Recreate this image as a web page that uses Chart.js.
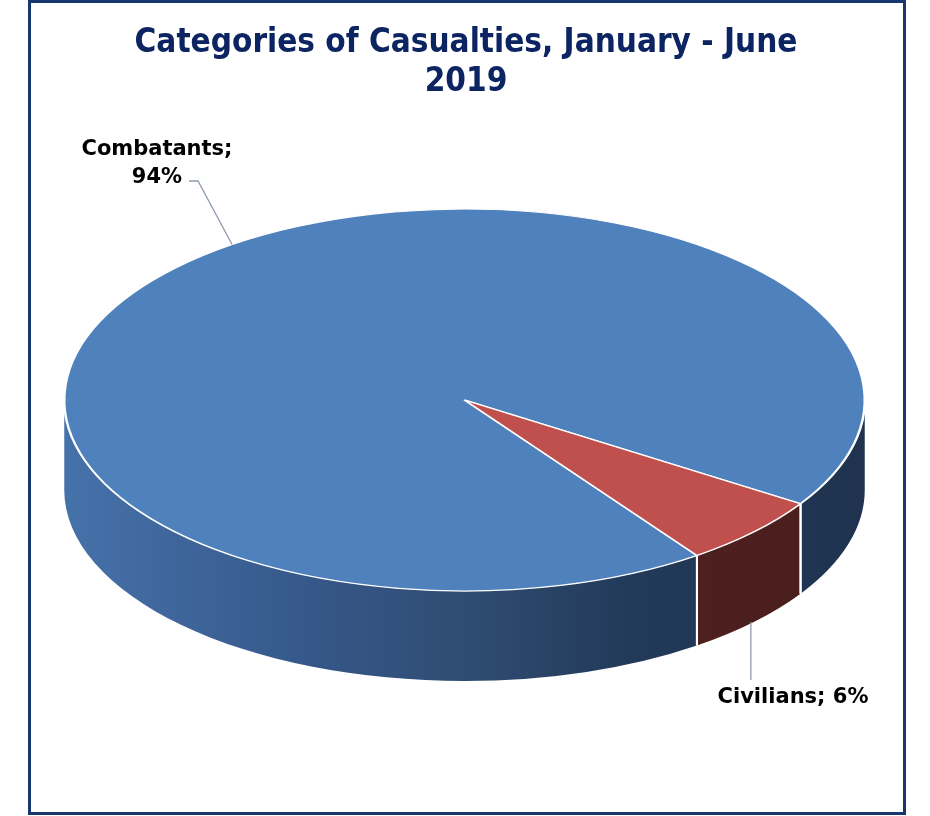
<!DOCTYPE html>
<html lang="en">
<head>
    <meta charset="UTF-8">
    <title>Categories of Casualties</title>
    <script src="https://cdn.jsdelivr.net/npm/chart.js"></script>
    <style>
        body { margin: 0; background: #fff; }
        .frame {
            position: relative;
            width: 930px;
            height: 816px;
        }
        .frame:after {
            content: '';
            position: absolute;
            left: 28px; top: 0;
            width: 872px; height: 809px;
            border: 3px solid #17356f;
            pointer-events: none;
        }
    </style>
</head>
<body>
    <div class="frame">
        <canvas id="casualtiesChart" width="930" height="816"></canvas>
    </div>
    <script>
        // data
        const categories = ['Combatants', 'Civilians'];
        const shares = [94, 6];
        const sliceColors = ['#4f81bd', '#c0504d'];

        // 3d look of the pie
        const CY = 400;      // centre of the top face
        const RY = 191;      // vertical radius of the top face
        const DEPTH = 90;    // height of the side wall

        function wallFill(ctx, i, cx, r) {
            const g = ctx.createLinearGradient(cx - r, 0, cx + r, 0);
            if (i === 0) {
                g.addColorStop(0, '#4672aa');
                g.addColorStop(0.3, '#36588a');
                g.addColorStop(0.5, '#2f4c72');
                g.addColorStop(0.72, '#223958');
                g.addColorStop(1, '#1f3350');
            } else {
                g.addColorStop(0, '#542323');
                g.addColorStop(1, '#4b1e1e');
            }
            return g;
        }

        const pie3d = {
            id: 'pie3d',
            beforeDatasetsDraw(chart) {
                const ctx = chart.ctx;
                const arcs = chart.getDatasetMeta(0).data;
                const cx = arcs[0].x, cy = arcs[0].y, r = arcs[0].outerRadius;
                const edges = [];
                // side wall, only the front half is visible
                arcs.forEach((arc, i) => {
                    for (let off = -2 * Math.PI; off <= 4 * Math.PI; off += 2 * Math.PI) {
                        const a = Math.max(arc.startAngle, off);
                        const b = Math.min(arc.endAngle, off + Math.PI);
                        if (a >= b) continue;
                        const s = a - off, e = b - off;
                        ctx.beginPath();
                        ctx.ellipse(cx, CY, r, RY, 0, s, e);
                        ctx.lineTo(cx + r * Math.cos(e), CY + RY * Math.sin(e) + DEPTH);
                        ctx.ellipse(cx, CY + DEPTH, r, RY, 0, e, s, true);
                        ctx.closePath();
                        ctx.fillStyle = wallFill(ctx, i, cx, r);
                        ctx.fill();
                        if (s > 0.001) edges.push(s);
                        if (e < Math.PI - 0.001) edges.push(e);
                    }
                });
                ctx.save();
                ctx.strokeStyle = '#ffffff';
                ctx.lineWidth = 2;
                edges.forEach(t => {
                    ctx.beginPath();
                    ctx.moveTo(cx + r * Math.cos(t), CY + RY * Math.sin(t));
                    ctx.lineTo(cx + r * Math.cos(t), CY + RY * Math.sin(t) + DEPTH);
                    ctx.stroke();
                });
                ctx.restore();
                // squash the top face
                ctx.save();
                ctx.translate(0, CY);
                ctx.scale(1, RY / r);
                ctx.translate(0, -cy);
            },
            afterDatasetsDraw(chart) {
                const ctx = chart.ctx;
                ctx.restore();
                const arcs = chart.getDatasetMeta(0).data;
                const cx = arcs[0].x, r = arcs[0].outerRadius;
                const total = shares.reduce((a, b) => a + b, 0);

                // title
                ctx.save();
                ctx.fillStyle = '#0c2461';
                ctx.textAlign = 'center';
                ctx.textBaseline = 'alphabetic';
                ctx.font = 'bold 33px "DejaVu Sans Condensed", "DejaVu Sans"';
                ctx.fillText('Categories of Casualties, January - June', 466, 52);
                ctx.fillText('2019', 466, 91);

                // data labels with leader lines
                ctx.font = 'bold 21px "DejaVu Sans"';
                ctx.fillStyle = '#000000';
                ctx.strokeStyle = '#8e9bb0';
                ctx.lineWidth = 1.3;
                const pct = i => Math.round(shares[i] / total * 100) + '%';

                // Combatants: anchor on the back rim of the top face
                const t0 = -125.5 * Math.PI / 180;
                const ax = cx + r * Math.cos(t0), ay = CY + RY * Math.sin(t0);
                ctx.beginPath();
                ctx.moveTo(ax, ay);
                ctx.lineTo(198, 181);
                ctx.lineTo(189, 181);
                ctx.stroke();
                ctx.textAlign = 'center';
                ctx.fillText(categories[0] + ';', 157, 155);
                ctx.fillText(pct(0), 157, 183);

                // Civilians: anchor on the bottom of its wall
                const c = arcs[1];
                const m = (c.startAngle + c.endAngle) / 2 - 2 * Math.PI * Math.floor(((c.startAngle + c.endAngle) / 2) / (2 * Math.PI));
                const bx = cx + r * Math.cos(m) - 3, by = CY + RY * Math.sin(m) + DEPTH;
                ctx.beginPath();
                ctx.moveTo(bx, by);
                ctx.lineTo(bx, 680);
                ctx.stroke();
                ctx.fillText(categories[1] + '; ' + pct(1), 793, 703);
                ctx.restore();
            }
        };

        const casualtiesChart = new Chart(document.getElementById('casualtiesChart'), {
            type: 'pie',
            data: {
                labels: categories,
                datasets: [{
                    data: shares,
                    backgroundColor: sliceColors,
                    borderColor: '#ffffff',
                    borderWidth: 2.5
                }]
            },
            options: {
                responsive: false,
                animation: false,
                rotation: 144.5,
                layout: { padding: { left: 63, right: 64, top: 6, bottom: 7 } },
                plugins: {
                    legend: { display: false },
                    tooltip: { enabled: false },
                    title: { display: false }
                },
                events: []
            },
            plugins: [pie3d]
        });
    </script>
</body>
</html>
